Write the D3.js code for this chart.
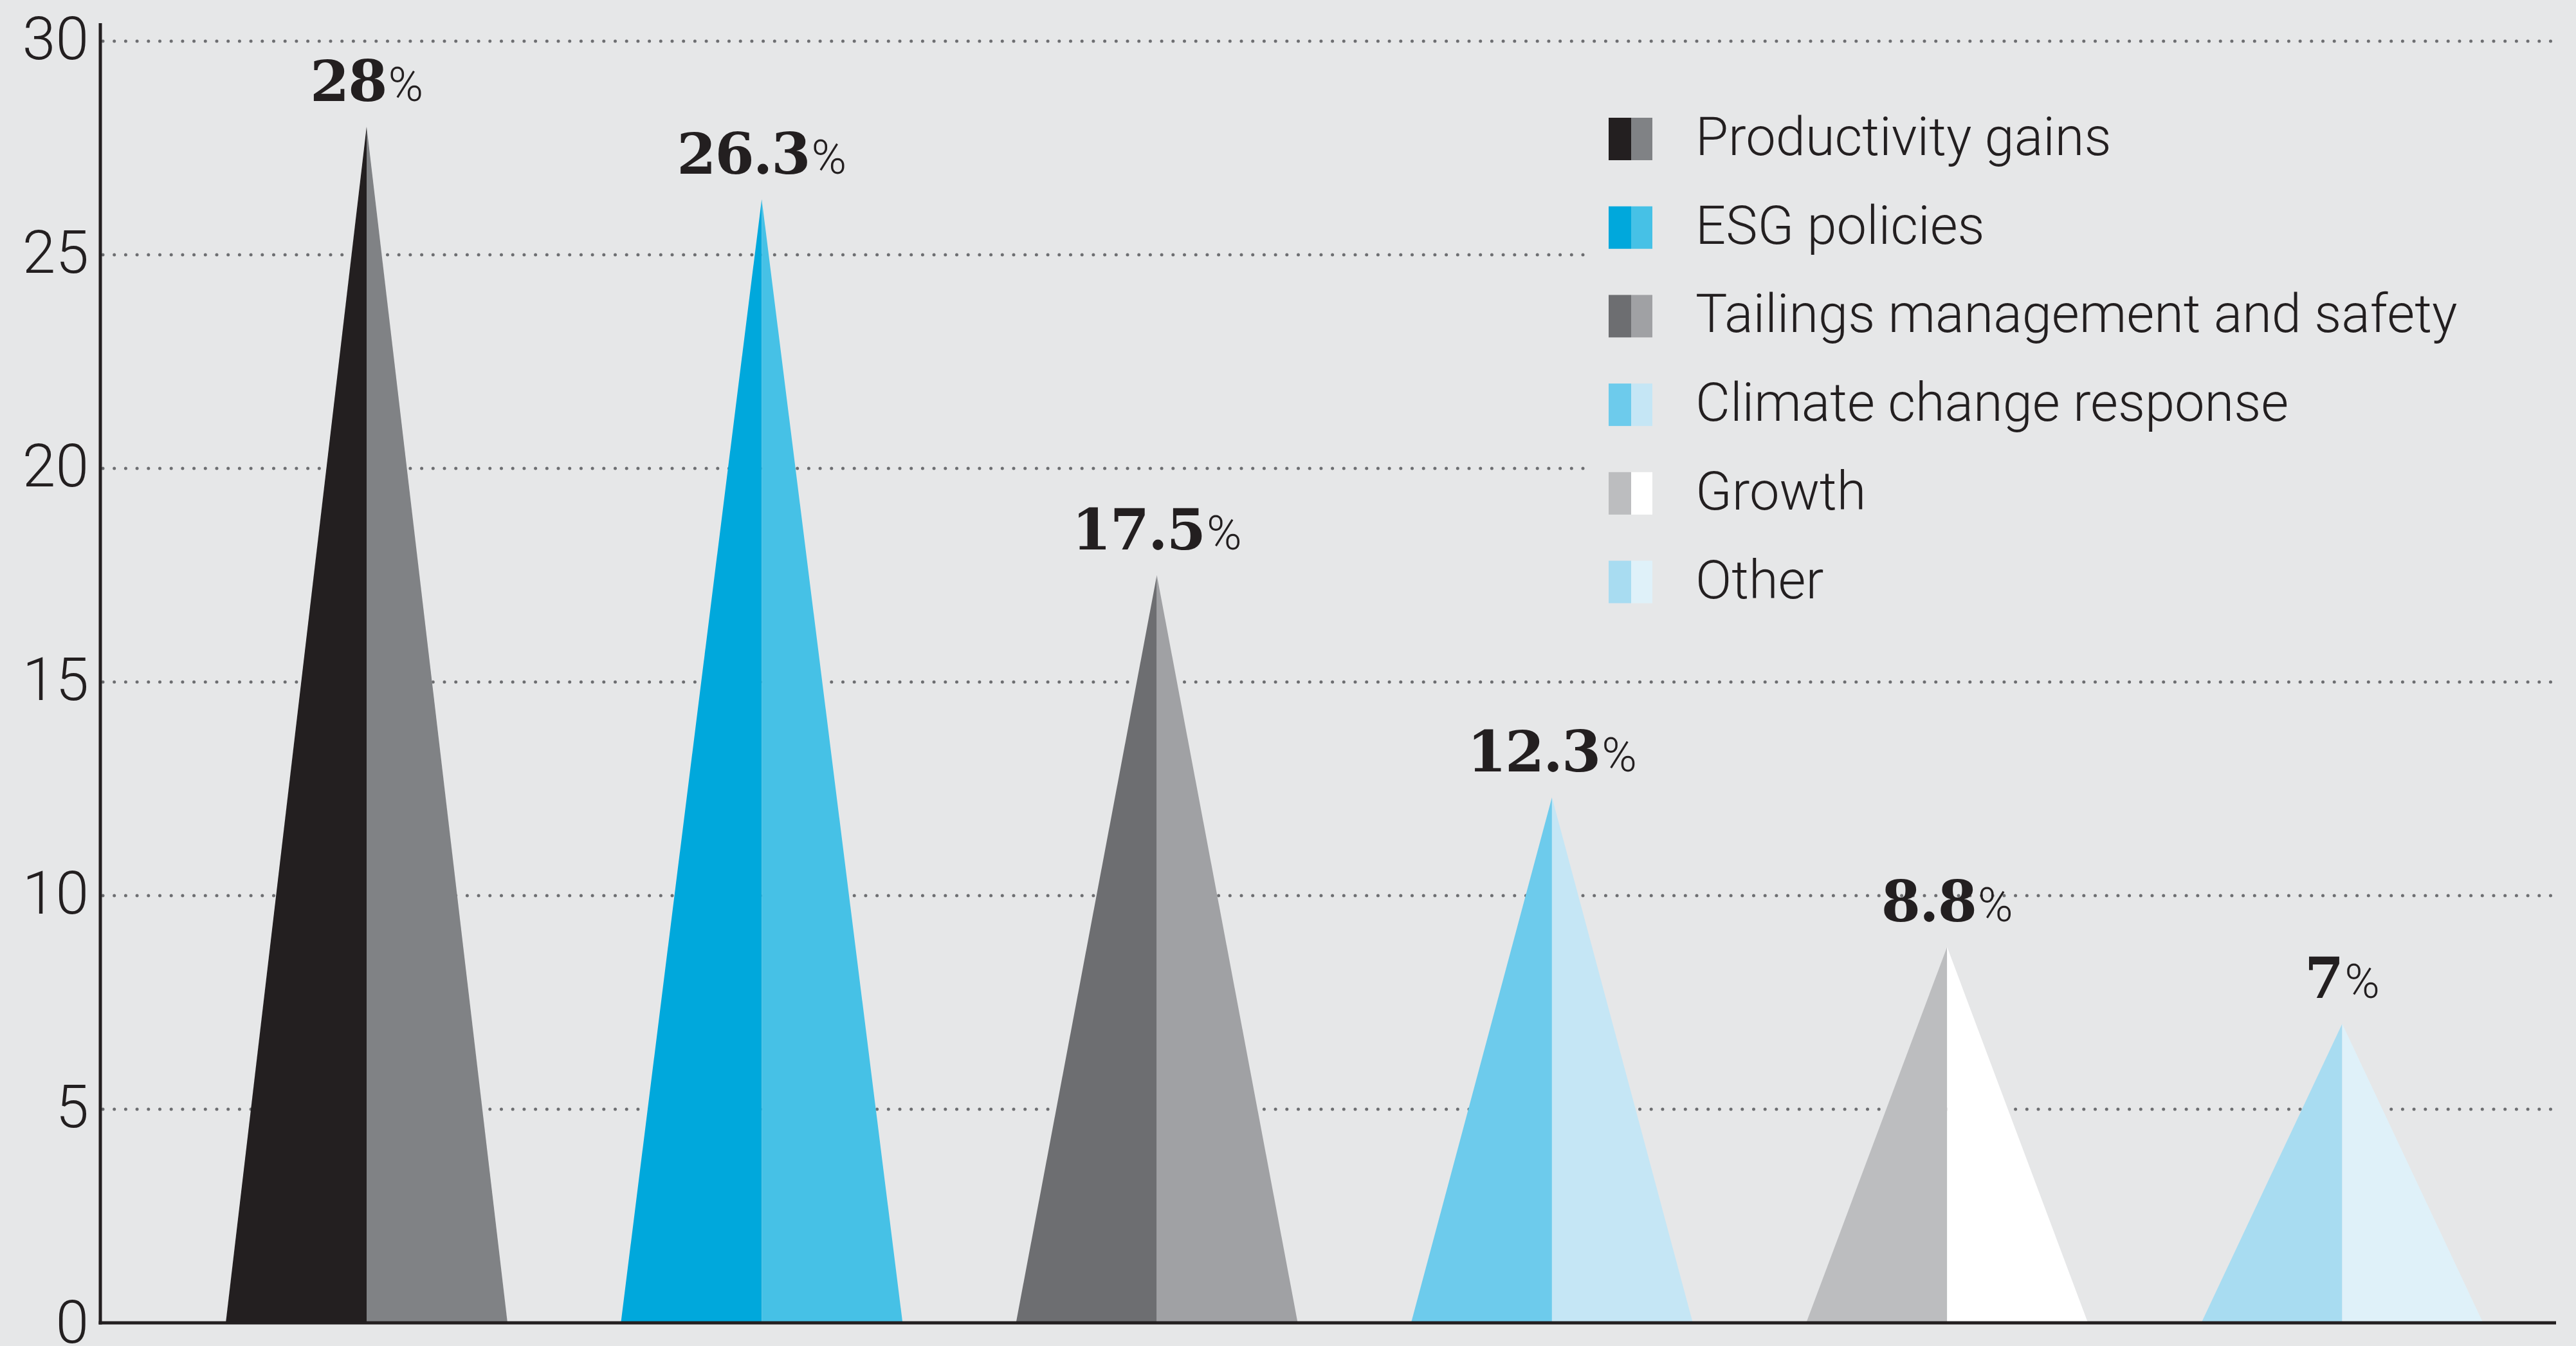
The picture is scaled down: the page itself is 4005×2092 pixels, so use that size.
<!DOCTYPE html>
<html>
<head>
<meta charset="utf-8">
<script src="https://cdn.jsdelivr.net/npm/d3@7"></script>
<style>
  html, body { margin: 0; padding: 0; background: #e6e7e8; }
  svg { display: block; }
</style>
</head>
<body>
<div id="chart"></div>
<script>
// ===========================================
// Data
var categories = ["Productivity gains", "ESG policies", "Tailings management and safety",
                  "Climate change response", "Growth", "Other"];
var values = [28, 26.3, 17.5, 12.3, 8.8, 7];
var valueLabels = ["28", "26.3", "17.5", "12.3", "8.8", "7"];
var darkColors = ["#231f20", "#00a8dc", "#6d6e71", "#6dcbec", "#bcbdbf", "#a8dcf1"];
var lightColors = ["#808285", "#46c1e6", "#a0a1a4", "#c5e6f5", "#ffffff", "#dff1f9"];
var yTicks = [0, 5, 10, 15, 20, 25, 30];

// ===========================================
// Set up SVG
var svgWidth = 4005;
var svgHeight = 2092;

var svg = d3.select("#chart")
    .append("svg")
    .attr("width", svgWidth)
    .attr("height", svgHeight);

svg.append("rect")
    .attr("width", svgWidth)
    .attr("height", svgHeight)
    .attr("fill", "#e6e7e8");

var axisX = 156;
var halfWidth = 219;

var xscale = d3.scalePoint().domain(categories).range([570, 3641.5]);
var yscale = d3.scaleLinear().domain([0, 30]).range([2056, 64]);

// dotted gridlines
svg.append("g")
    .selectAll("line")
    .data(yTicks.filter(d => d > 0))
    .enter()
    .append("line")
    .attr("x1", axisX + 4)
    .attr("x2", 3966)
    .attr("y1", d => yscale(d))
    .attr("y2", d => yscale(d))
    .attr("stroke", "#6d6e71")
    .attr("stroke-width", 5)
    .attr("stroke-linecap", "round")
    .attr("stroke-dasharray", "0 17.7");

// legend background hides the gridlines behind it
svg.append("rect")
    .attr("x", 2470)
    .attr("y", 110)
    .attr("width", svgWidth - 2470)
    .attr("height", 880)
    .attr("fill", "#e6e7e8");

// y axis labels
var yAxis = d3.axisLeft(yscale).tickValues(yTicks).tickSize(0).tickPadding(18);
var yAxisG = svg.append("g")
    .attr("transform", `translate(${axisX},0)`)
    .call(yAxis);
yAxisG.select(".domain").remove();
yAxisG.selectAll("text")
    .attr("font-family", "Roboto, 'Liberation Sans', sans-serif")
    .attr("font-weight", 300)
    .attr("font-size", "93px")
    .attr("fill", "#231f20")
    .attr("dy", d => d === 0 ? "0.33em" : "0.3em");

// triangles, each split into a dark left half and a light right half
var bars = svg.append("g")
    .selectAll("g")
    .data(categories)
    .enter()
    .append("g");

bars.append("path")
    .attr("fill", (d, i) => darkColors[i])
    .attr("d", (d, i) => {
        var cx = xscale(d);
        return `M${cx - halfWidth},${yscale(0)}L${cx},${yscale(values[i])}L${cx},${yscale(0)}Z`;
    });

bars.append("path")
    .attr("fill", (d, i) => lightColors[i])
    .attr("d", (d, i) => {
        var cx = xscale(d);
        return `M${cx},${yscale(0)}L${cx},${yscale(values[i])}L${cx + halfWidth},${yscale(0)}Z`;
    });

// value labels
var labels = bars.append("text")
    .attr("x", d => xscale(d))
    .attr("y", (d, i) => yscale(values[i]) - 40)
    .attr("text-anchor", "middle")
    .attr("fill", "#231f20");

labels.append("tspan")
    .attr("font-family", "'DejaVu Serif', serif")
    .attr("font-weight", "bold")
    .attr("font-size", "88px")
    .attr("letter-spacing", "-2px")
    .text((d, i) => valueLabels[i]);

labels.append("tspan")
    .attr("font-family", "Roboto, 'Liberation Sans', sans-serif")
    .attr("font-weight", 300)
    .attr("font-size", "74px")
    .attr("dx", "3")
    .text("%");

// axis lines
svg.append("line")
    .attr("x1", axisX)
    .attr("x2", axisX)
    .attr("y1", 36)
    .attr("y2", yscale(0) + 2.5)
    .attr("stroke", "#231f20")
    .attr("stroke-width", 5);

svg.append("line")
    .attr("x1", axisX - 2.5)
    .attr("x2", 3974)
    .attr("y1", yscale(0))
    .attr("y2", yscale(0))
    .attr("stroke", "#231f20")
    .attr("stroke-width", 5);

// legend
var legend = svg.append("g")
    .selectAll("g")
    .data(categories)
    .enter()
    .append("g")
    .attr("transform", (d, i) => `translate(2501, ${183 + i * 137.7})`);

legend.append("rect")
    .attr("width", 35)
    .attr("height", 66)
    .attr("fill", (d, i) => darkColors[i]);

legend.append("rect")
    .attr("x", 35)
    .attr("width", 33)
    .attr("height", 66)
    .attr("fill", (d, i) => lightColors[i]);

legend.append("text")
    .attr("x", 135)
    .attr("y", 58)
    .attr("font-family", "Roboto, 'Liberation Sans', sans-serif")
    .attr("font-weight", 300)
    .attr("font-size", "83px")
    .attr("fill", "#231f20")
    .text(d => d);
</script>
</body>
</html>
